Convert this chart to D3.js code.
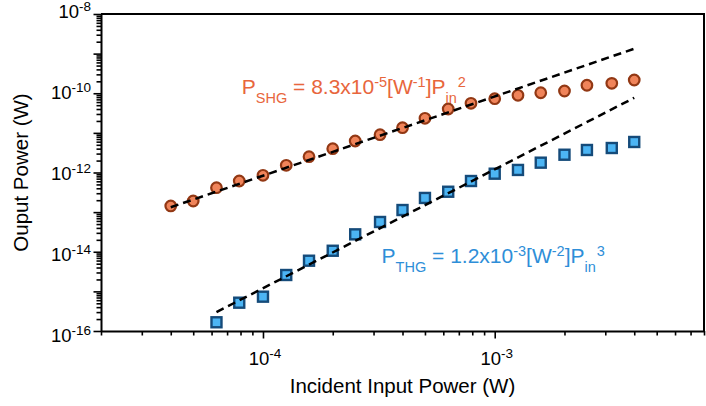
<!DOCTYPE html>
<html>
<head>
<meta charset="utf-8">
<script src="https://cdn.jsdelivr.net/npm/d3@7"></script>
<style>
  body { margin: 0; background: #fff; }
  svg text { font-family: "Liberation Sans", Arial, Helvetica, sans-serif; }
</style>
</head>
<body>
<div id="chart"></div>
<script>
// Incident input power (W), shared by both harmonics
const inputPower = [4.0e-5, 5.0e-5, 6.3e-5, 7.9e-5, 1.0e-4, 1.26e-4, 1.58e-4, 2.0e-4, 2.5e-4, 3.2e-4,
  4.0e-4, 5.0e-4, 6.3e-4, 7.9e-4, 1.0e-3, 1.26e-3, 1.58e-3, 2.0e-3, 2.5e-3, 3.2e-3, 4.0e-3];

// Second harmonic output (W)
const shgPower = [1.43e-13, 1.91e-13, 4.13e-13, 6.10e-13, 8.49e-13, 1.52e-12, 2.51e-12, 3.99e-12, 6.24e-12,
  8.99e-12, 1.35e-11, 2.33e-11, 4.01e-11, 5.57e-11, 7.29e-11, 8.87e-11, 1.03e-10, 1.14e-10, 1.59e-10,
  1.78e-10, 2.16e-10];

// Third harmonic input / output (W)
const thgInput = [6.3e-5, 7.9e-5, 1.0e-4, 1.26e-4, 1.58e-4, 2.0e-4, 2.5e-4, 3.2e-4, 4.0e-4, 5.0e-4,
  6.3e-4, 7.9e-4, 1.0e-3, 1.26e-3, 1.58e-3, 2.0e-3, 2.5e-3, 3.2e-3, 4.0e-3];
const thgPower = [1.66e-16, 5.18e-16, 7.35e-16, 2.59e-15, 5.94e-15, 1.06e-14, 2.75e-14, 5.64e-14, 1.13e-13,
  2.28e-13, 3.27e-13, 6.10e-13, 9.33e-13, 1.16e-12, 1.77e-12, 2.81e-12, 3.70e-12, 4.15e-12, 5.89e-12];

// Power-law fits P = coef * Pin^order
const fitCoefs = [8.3e-5, 1.2e-3];
const fitOrders = [2, 3];
const fitStart = [4.0e-5, 6.3e-5];
const fitEnd = [4.0e-3, 4.0e-3];

// Axis labels
const xLabelExponents = [-4, -3];
const yLabelExponents = [-16, -14, -12, -10, -8];

const config = {
  containerWidth: 706,
  containerHeight: 406,
  margin: {top: 14, right: 2, bottom: 75, left: 101},
  shgColor: '#e8663c',
  shgFill: '#f0845a',
  shgStroke: '#923814',
  thgColor: '#2e8ed8',
  thgFill: '#4cb5f4',
  thgStroke: '#154b7a'
};

const width = config.containerWidth - config.margin.left - config.margin.right;
const height = config.containerHeight - config.margin.top - config.margin.bottom;

const svg = d3.select('#chart').append('svg')
    .attr('width', config.containerWidth)
    .attr('height', config.containerHeight);

const chart = svg.append('g')
    .attr('transform', `translate(${config.margin.left},${config.margin.top})`);

const x = d3.scaleLog().domain([2e-5, 8e-3]).range([0, width]);
const y = d3.scaleLog().domain([1e-16, 1e-8]).range([height, 0]);

const isMajor = v => Math.abs(Math.log10(v) - Math.round(Math.log10(v))) < 1e-6;

// Frame (top and right)
chart.append('path')
    .attr('d', `M0,0H${width}V${height}`)
    .attr('fill', 'none')
    .attr('stroke', '#000')
    .attr('stroke-width', 2);

// Axes
const xAxis = d3.axisBottom(x).tickValues(x.ticks()).tickFormat('').tickSizeOuter(0);
const yAxis = d3.axisLeft(y).tickValues(y.ticks()).tickFormat('').tickSizeOuter(0);

const xAxisG = chart.append('g').attr('transform', `translate(0,${height})`).call(xAxis);
const yAxisG = chart.append('g').call(yAxis);

[xAxisG, yAxisG].forEach(g => {
  g.select('.domain').attr('stroke-width', 2);
  g.selectAll('.tick line').attr('stroke-width', 1.6);
});
xAxisG.selectAll('.tick line').attr('y2', d => isMajor(d) ? 7.5 : 4.5);
yAxisG.selectAll('.tick line').attr('x2', d => isMajor(d) ? -7.5 : -4.5);

// Power-of-ten labels
const powerLabel = (sel, exp) => {
  sel.append('tspan').text('10');
  sel.append('tspan').attr('dy', -7).attr('font-size', 13.5).text(exp);
};

xLabelExponents.forEach(e => {
  chart.append('text')
      .attr('x', x(Math.pow(10, e)) + 2)
      .attr('y', height + 34)
      .attr('text-anchor', 'middle')
      .attr('font-size', 18.5)
      .call(powerLabel, e);
});

yLabelExponents.forEach(e => {
  const yy = y(Math.pow(10, e));
  chart.append('text')
      .attr('x', -10)
      .attr('y', yy + 4 + 7 * yy / height)
      .attr('text-anchor', 'end')
      .attr('font-size', 18.5)
      .call(powerLabel, e);
});

// Axis titles
chart.append('text')
    .attr('x', width / 2)
    .attr('y', height + 62)
    .attr('text-anchor', 'middle')
    .attr('font-size', 20.5)
    .text('Incident Input Power (W)');

chart.append('text')
    .attr('transform', `translate(${-73},${height / 2}) rotate(-90)`)
    .attr('text-anchor', 'middle')
    .attr('font-size', 20.5)
    .text('Ouput Power (W)');

// Markers
chart.selectAll('.shg')
    .data(inputPower.map((p, i) => [p, shgPower[i]]))
  .join('circle')
    .attr('class', 'shg')
    .attr('cx', d => x(d[0]))
    .attr('cy', d => y(d[1]))
    .attr('r', 5.3)
    .attr('fill', config.shgFill)
    .attr('stroke', config.shgStroke)
    .attr('stroke-width', 2.2);

const sq = 10;
chart.selectAll('.thg')
    .data(thgInput.map((p, i) => [p, thgPower[i]]))
  .join('rect')
    .attr('class', 'thg')
    .attr('x', d => x(d[0]) - sq / 2)
    .attr('y', d => y(d[1]) - sq / 2)
    .attr('width', sq)
    .attr('height', sq)
    .attr('fill', config.thgFill)
    .attr('stroke', config.thgStroke)
    .attr('stroke-width', 2.4);

// Fit lines
const line = d3.line().x(d => x(d[0])).y(d => y(d[1]));
fitCoefs.forEach((c, i) => {
  const pts = [fitStart[i], fitEnd[i]].map(p => [p, c * Math.pow(p, fitOrders[i])]);
  chart.append('path')
      .attr('d', line(pts))
      .attr('fill', 'none')
      .attr('stroke', '#000')
      .attr('stroke-width', 2.5)
      .attr('stroke-dasharray', '8,5');
});

// Annotations
const annotate = (px, py, color, sub, coef, unitExp, order) => {
  const t = chart.append('text')
      .attr('x', x(px))
      .attr('y', y(py))
      .attr('font-size', 21)
      .attr('fill', color);
  t.append('tspan').text('P');
  t.append('tspan').attr('dy', 9).attr('font-size', 14.5).text(sub);
  t.append('tspan').attr('dy', -9).text(` = ${coef}x10`);
  t.append('tspan').attr('dy', -7).attr('font-size', 14.5).text(unitExp[0]);
  t.append('tspan').attr('dy', 7).text('[W');
  t.append('tspan').attr('dy', -7).attr('font-size', 14.5).text(unitExp[1]);
  t.append('tspan').attr('dy', 7).text(']P');
  t.append('tspan').attr('dy', 9).attr('font-size', 14.5).text('in');
  t.append('tspan').attr('dy', -16).attr('dx', 1).attr('font-size', 14.5).text(order);
};

annotate(8.1e-5, 9.4e-11, config.shgColor, 'SHG', '8.3', ['-5', '-1'], '2');
annotate(3.25e-4, 5.1e-15, config.thgColor, 'THG', '1.2', ['-3', '-2'], '3');
</script>
</body>
</html>
